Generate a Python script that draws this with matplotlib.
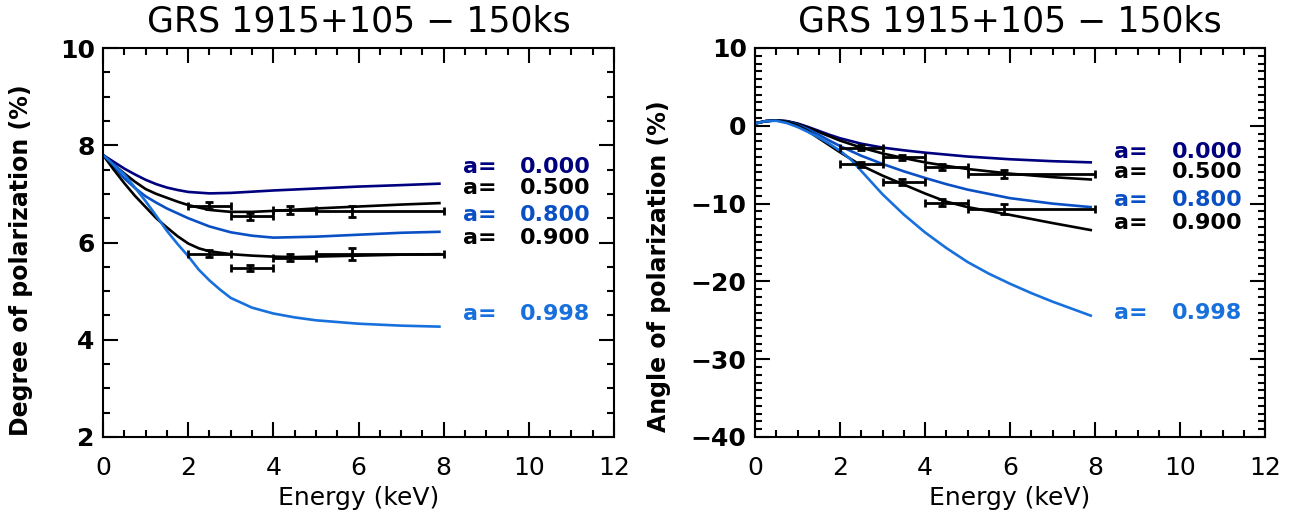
import matplotlib
matplotlib.use("Agg")
import matplotlib.pyplot as plt
from matplotlib.ticker import MultipleLocator

# ---------------- data ----------------
spins = ["0.000", "0.500", "0.800", "0.900", "0.998"]
colors = ["#00007F", "#000000", "#0A50C4", "#000000", "#1870DC"]

# Degree of polarization curves (left)
E_deg = {
    "0.000": [0, .25, .5, .75, 1, 1.25, 1.5, 1.75, 2, 2.5, 3, 4, 5, 6, 7, 7.9],
    "0.500": [0, .25, .5, .75, 1, 1.25, 1.5, 1.75, 2, 2.5, 3, 3.5, 4, 5, 6, 7, 7.9],
    "0.800": [0, .25, .5, .75, 1, 1.25, 1.5, 1.75, 2, 2.5, 3, 3.5, 4, 5, 6, 7, 7.9],
    "0.900": [0, .25, .5, .75, 1, 1.25, 1.5, 1.75, 2, 2.25, 2.5, 3, 3.5, 4, 4.5, 5, 6, 7, 7.9],
    "0.998": [0, .25, .5, .75, 1, 1.25, 1.5, 1.75, 2, 2.25, 2.5, 2.75, 3, 3.5, 4, 4.5, 5, 6, 7, 7.9],
}
P_deg = {
    "0.000": [7.8, 7.66, 7.52, 7.40, 7.29, 7.20, 7.13, 7.08, 7.04, 7.01, 7.02, 7.07, 7.11, 7.15, 7.18, 7.21],
    "0.500": [7.8, 7.6, 7.42, 7.25, 7.10, 7.00, 6.92, 6.84, 6.77, 6.67, 6.63, 6.63, 6.65, 6.70, 6.74, 6.78, 6.81],
    "0.800": [7.8, 7.55, 7.32, 7.12, 6.95, 6.82, 6.70, 6.60, 6.50, 6.33, 6.21, 6.14, 6.10, 6.12, 6.16, 6.20, 6.22],
    "0.900": [7.8, 7.5, 7.22, 6.96, 6.73, 6.50, 6.31, 6.13, 5.98, 5.88, 5.82, 5.76, 5.73, 5.71, 5.70, 5.71, 5.73, 5.75, 5.76],
    "0.998": [7.8, 7.6, 7.4, 7.13, 6.85, 6.55, 6.24, 5.97, 5.72, 5.44, 5.22, 5.03, 4.86, 4.66, 4.54, 4.46, 4.40, 4.33, 4.29, 4.27],
}

# Angle of polarization curves (right)
E_ang = {
    "0.000": [0, .25, .5, .75, 1, 1.25, 1.5, 1.75, 2, 2.5, 3, 3.5, 4, 5, 6, 7, 7.9],
    "0.500": [0, .25, .5, .75, 1, 1.25, 1.5, 1.75, 2, 2.5, 3, 3.5, 4, 4.5, 5, 6, 7, 7.9],
    "0.800": [0, .25, .5, .75, 1, 1.25, 1.5, 1.75, 2, 2.5, 3, 3.5, 4, 4.5, 5, 6, 7, 7.9],
    "0.900": [0, .25, .5, .75, 1, 1.25, 1.5, 1.75, 2, 2.5, 3, 3.5, 4, 4.5, 5, 6, 7, 7.9],
    "0.998": [0, .25, .5, .75, 1, 1.25, 1.5, 1.75, 2, 2.25, 2.5, 2.75, 3, 3.5, 4, 4.5, 5, 5.5, 6, 6.5, 7, 7.5, 7.9],
}
A_ang = {
    "0.000": [0.3, 0.6, 0.7, 0.6, 0.3, -0.15, -0.65, -1.15, -1.6, -2.3, -2.8, -3.15, -3.45, -3.95, -4.3, -4.55, -4.7],
    "0.500": [0.3, 0.6, 0.7, 0.58, 0.25, -0.25, -0.8, -1.35, -1.9, -2.8, -3.55, -4.15, -4.7, -5.15, -5.55, -6.15, -6.6, -6.9],
    "0.800": [0.3, 0.6, 0.7, 0.55, 0.15, -0.45, -1.15, -1.9, -2.6, -3.85, -4.9, -5.85, -6.7, -7.5, -8.2, -9.3, -10.0, -10.45],
    "0.900": [0.3, 0.6, 0.7, 0.52, 0.05, -0.7, -1.6, -2.5, -3.4, -5.1, -6.4, -7.55, -8.7, -9.75, -10.45, -11.45, -12.5, -13.4],
    "0.998": [0.3, 0.6, 0.65, 0.35, -0.15, -0.8, -1.5, -2.3, -3.2, -4.3, -5.8, -7.3, -8.8, -11.4, -13.7, -15.7, -17.5, -19.0, -20.3, -21.5, -22.6, -23.6, -24.4],
}

# simulated data points (energy bins)
E_pts = [2.5, 3.45, 4.4, 5.85]
E_lo = [2.0, 3.0, 4.0, 5.0]
E_hi = [3.0, 4.0, 5.0, 8.0]

deg_a05 = [6.76, 6.54, 6.67, 6.64]
deg_a05_err = [0.08, 0.07, 0.08, 0.12]
deg_a09 = [5.77, 5.47, 5.69, 5.76]
deg_a09_err = [0.07, 0.06, 0.08, 0.12]

ang_a05 = [-2.8, -4.05, -5.3, -6.2]
ang_a05_err = [0.35, 0.35, 0.4, 0.55]
ang_a09 = [-4.95, -7.25, -9.9, -10.7]
ang_a09_err = [0.35, 0.35, 0.45, 0.7]

# label positions (data coords)
lab_deg_y = [7.56, 7.13, 6.56, 6.09, 4.52]
lab_ang_y = [-3.4, -5.9, -9.5, -12.5, -24.0]

title = "GRS 1915+105 \u2212 150ks"

# ---------------- plot ----------------
plt.rcParams['font.family'] = ['DejaVu Sans']
fig = plt.figure(figsize=(12.93, 5.25), dpi=100)
axL = fig.add_axes([103/1293, 88/525, 511/1293, 389/525])
axR = fig.add_axes([755/1293, 88/525, 510/1293, 389/525])


def style(ax, ymaj, ymin):
    ax.set_xlim(0, 12)
    ax.xaxis.set_major_locator(MultipleLocator(2))
    ax.xaxis.set_minor_locator(MultipleLocator(0.5))
    ax.yaxis.set_major_locator(MultipleLocator(ymaj))
    ax.yaxis.set_minor_locator(MultipleLocator(ymin))
    ax.tick_params(which='both', direction='in', top=True, right=True, width=1.5)
    ax.tick_params(which='major', length=11)
    ax.tick_params(which='minor', length=5)
    ax.tick_params(axis='x', labelsize=18, pad=14)
    ax.tick_params(axis='y', labelsize=18, pad=6)
    for s in ax.spines.values():
        s.set_linewidth(1.5)
    ax.set_xlabel("Energy (keV)", fontsize=18, labelpad=4)
    ax.set_title(title, fontsize=25, pad=12)


def draw_points(ax, yv, ye):
    xerr = [[e - lo for e, lo in zip(E_pts, E_lo)], [hi - e for e, hi in zip(E_pts, E_hi)]]
    ax.errorbar(E_pts, yv, xerr=xerr, yerr=ye, fmt='none', ecolor='black',
                elinewidth=2, capsize=3, capthick=2)


# Left panel
for s, c in zip(spins, colors):
    axL.plot(E_deg[s], P_deg[s], color=c, lw=1.9)
draw_points(axL, deg_a05, deg_a05_err)
draw_points(axL, deg_a09, deg_a09_err)
axL.set_ylim(2, 10)
style(axL, 2, 0.5)
for lab in axL.get_yticklabels():
    lab.set_fontweight('bold')
axL.set_ylabel("Degree of polarization (%)", fontsize=17, fontweight='bold')
axL.yaxis.set_label_coords(-0.137, 0.455)
for s, c, y in zip(spins, colors, lab_deg_y):
    axL.text(8.45, y, "a=", color=c, fontsize=16, fontweight='bold', va='center')
    axL.text(9.8, y, s, color=c, fontsize=16, fontweight='bold', va='center')

# Right panel
for s, c in zip(spins, colors):
    axR.plot(E_ang[s], A_ang[s], color=c, lw=1.9)
draw_points(axR, ang_a05, ang_a05_err)
draw_points(axR, ang_a09, ang_a09_err)
axR.set_ylim(-40, 10)
style(axR, 10, 1)
for lab in axR.get_yticklabels():
    lab.set_fontweight('bold')
axR.set_ylabel("Angle of polarization (%)", fontsize=17, fontweight='bold')
axR.yaxis.set_label_coords(-0.165, 0.44)
for s, c, y in zip(spins, colors, lab_ang_y):
    axR.text(8.45, y, "a=", color=c, fontsize=16, fontweight='bold', va='center')
    axR.text(9.8, y, s, color=c, fontsize=16, fontweight='bold', va='center')

fig.savefig("out.png", dpi=100)
